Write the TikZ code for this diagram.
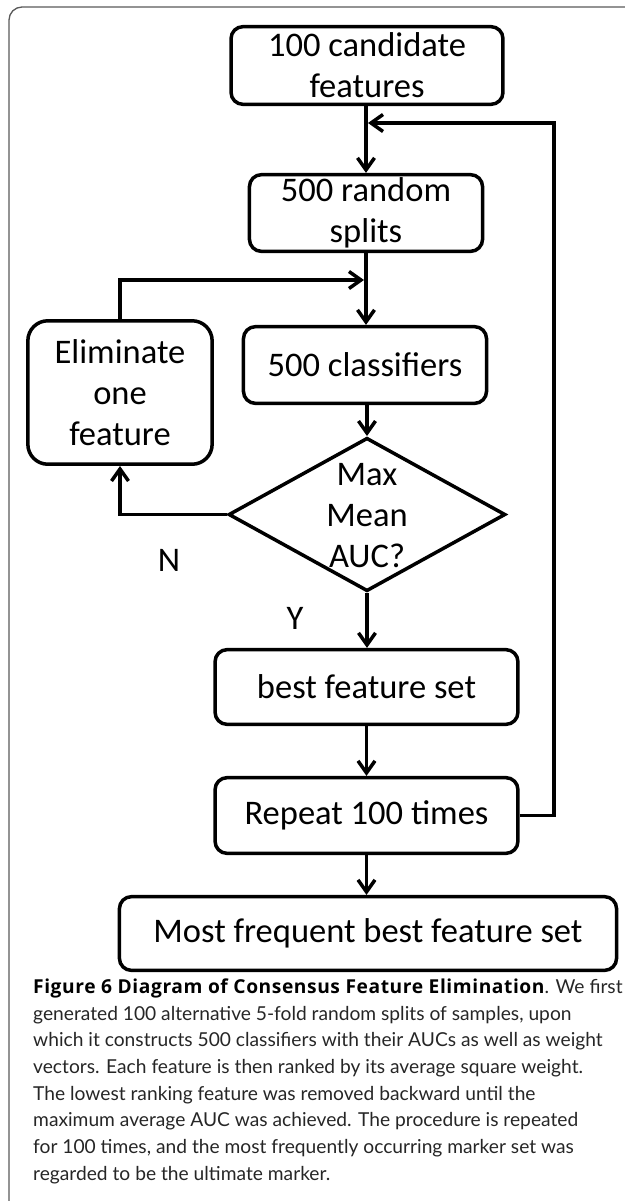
\documentclass[tikz,border=0pt]{standalone}
\usepackage{fontspec}
\setmainfont{Carlito}
\newfontfamily\capfont{Lato}
\newfontfamily\capbold{Open Sans}[UprightFont=* Bold,LetterSpace=3]
\usetikzlibrary{arrows.meta,shapes.geometric}
\newcommand\diagfont{\fontsize{34.5bp}{41bp}\selectfont}
\newcommand\capsize{\capfont\fontsize{19.2bp}{26.7bp}\selectfont}
\begin{document}
\begin{tikzpicture}[x=1bp,y=-1bp,
  box/.style={draw,line width=3.5bp,rounded corners=12bp,inner sep=0pt,align=center,font=\diagfont},
  dia/.style={draw,diamond,line width=3.5bp,inner sep=0pt},
  arr/.style={line width=3.5bp,-{Straight Barb[length=12bp,width=17bp,line width=3.5bp]}},
  lbl/.style={font=\diagfont,inner sep=0pt},
  capline/.style={anchor=base west,inner sep=0pt,font=\capsize,text=black!85}]
\useasboundingbox (0,0) rectangle (625,1201);
% outer frame
\draw[line width=1.3bp,black!65,rounded corners=13bp] (9,1201) -- (9,7) -- (625,7);
% nodes
\node[box,minimum width=273,minimum height=78] (cand) at (367,65.5) {100 candidate\\features};
\node[box,minimum width=234,minimum height=77] (splits) at (366,213) {500 random\\splits};
\node[box,minimum width=244,minimum height=77] (clf) at (365,365) {500 classifiers};
\node[box,rounded corners=20bp,minimum width=185,minimum height=144] (elim) at (120,392.5) {Eliminate\\one\\feature};
\node[dia,minimum width=278,minimum height=154] (dec) at (367,514.5) {};
\node[font=\diagfont,align=center,inner sep=0pt] (dectext) at (367,516) {Max\\Mean\\AUC?};
\node[box,minimum width=304,minimum height=75] (best) at (366.5,687) {best feature set};
\node[box,minimum width=304,minimum height=76] (rep) at (366.5,815.5) {Repeat 100 times};
\node[box,minimum width=499,minimum height=74] (final) at (368,933.5) {Most frequent best feature set};
\node[lbl] (nlab) at (169,560) {N};
\node[lbl] (ylab) at (295,618) {Y};
% junction coordinates
\coordinate (j1) at (368,123);
\coordinate (j2) at (364,280);
\coordinate (rx) at (554,815.5);
% connectors
\draw[arr] (cand.south -| splits.north) -- (splits.north);
\draw[arr] (splits.south) -- (splits.south |- clf.north);
\draw[arr] (clf.south -| dec.north) -- (dec.north);
\draw[arr] (dec.south) -- (dec.south |- best.north);
\draw[arr] (best.south) -- (rep.north);
\draw[arr] (rep.south) -- (rep.south |- final.north);
\draw[arr] (dec.west) -| (elim.south);
\draw[arr] (elim.north) |- (j2);
\draw[arr] (rep.east) -- (rx) |- (j1);
% caption
\node[capline] (c1) at (33,993.3) {{\capbold\fontsize{19.2bp}{26.7bp}\selectfont\color{black}Figure 6 Diagram of Consensus Feature Elimination}. We first};
\node[capline] (c2) at (33,1020) {generated 100 alternative 5-fold random splits of samples, upon};
\node[capline] (c3) at (33,1046.7) {which it constructs 500 classifiers with their AUCs as well as weight};
\node[capline] (c4) at (33,1073.4) {vectors. Each feature is then ranked by its average square weight.};
\node[capline] (c5) at (33,1100) {The lowest ranking feature was removed backward until the};
\node[capline] (c6) at (33,1126.7) {maximum average AUC was achieved. The procedure is repeated};
\node[capline] (c7) at (33,1153.4) {for 100 times, and the most frequently occurring marker set was};
\node[capline] (c8) at (33,1180) {regarded to be the ultimate marker.};
\end{tikzpicture}
\end{document}
